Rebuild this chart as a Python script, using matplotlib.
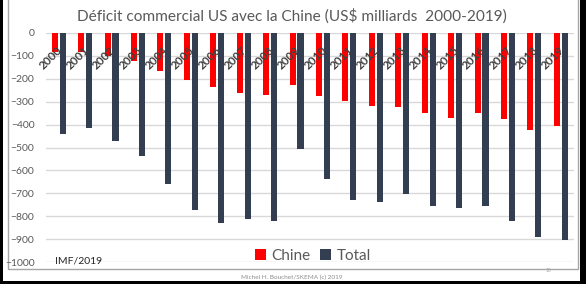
import matplotlib.pyplot as plt
import matplotlib.patches as mpatches
import numpy as np

years = [str(y) for y in range(2000, 2020)]
chine = [-84, -83, -102, -124, -164, -205, -237, -260, -272, -228,
         -273, -295, -319, -322, -348, -371, -348, -377, -423, -405]
total = [-439, -415, -470, -537, -658, -775, -831, -813, -819, -505,
         -639, -731, -736, -705, -755, -765, -755, -820, -892, -904]

RED = '#FF0000'
DARK = '#333F50'
GREY = '#595959'

plt.rcParams['font.family'] = ['Lato', 'DejaVu Sans']

W, H = 586, 284
fig = plt.figure(figsize=(W / 100, H / 100), dpi=100, facecolor='black')

# white slide and chart frame
fig.patches.append(mpatches.Rectangle((3 / W, 1 - 281 / H), 577 / W, 281 / H,
                                      transform=fig.transFigure, facecolor='white',
                                      edgecolor='none', zorder=-2))
fig.patches.append(mpatches.Rectangle((7.5 / W, 1 - 269 / H), 570.5 / W, 269 / H + 0.05,
                                      transform=fig.transFigure, facecolor='none',
                                      edgecolor='#A6A6A6', linewidth=1, zorder=-1))

ax = fig.add_axes([45.5 / W, 1 - 262 / H, 528.5 / W, 229 / H])
ax.set_facecolor('none')

x = np.arange(len(years))
w = 0.23
ax.bar(x - 0.15, chine, w, color=RED, label='Chine', zorder=3)
ax.bar(x + 0.15, total, w, color=DARK, label='Total', zorder=3)

ax.set_xlim(-0.5, len(years) - 0.5)
ax.set_ylim(-1000, 0)
ax.set_yticks(range(-1000, 1, 100))
ax.tick_params(axis='y', length=0, pad=8, labelsize=7.5, labelcolor=GREY)
ax.set_xticks([])
ax.grid(axis='y', color='#D9D9D9', linewidth=1, zorder=0)
for s in ax.spines.values():
    s.set_visible(False)

# year labels just under the zero line, drawn over the bars
for xi, yr in zip(x, years):
    ax.text(xi + 0.07, -66, yr, rotation=45, rotation_mode='anchor', ha='right', va='center',
            fontsize=8.5, color='#404040', fontweight='bold', zorder=4)

ax.text(-0.14, -995, 'IMF/2019', fontsize=7.5, color='#262626', va='center')

fig.text(292 / W, 1 - 16 / H, 'Déficit commercial US avec la Chine (US$ milliards  2000-2019)',
         ha='center', va='center', fontsize=11.1, color=GREY)

leg = fig.legend(loc='center', bbox_to_anchor=(313 / W, 1 - 256 / H), ncol=2, frameon=False,
                 fontsize=11, handlelength=0.7, handleheight=0.7, handletextpad=0.4,
                 columnspacing=0.6, labelcolor=GREY)

fig.text(292 / W, 1 - 277.5 / H, 'Michel H. Bouchet/SKEMA (c) 2019', ha='center', va='center',
         fontsize=4.6, color='#8C8C8C')
fig.text(548 / W, 1 - 271 / H, '10', ha='center', va='center', fontsize=3.5, color='#A6A6A6')

fig.savefig('out.png', dpi=100, facecolor=fig.get_facecolor())
